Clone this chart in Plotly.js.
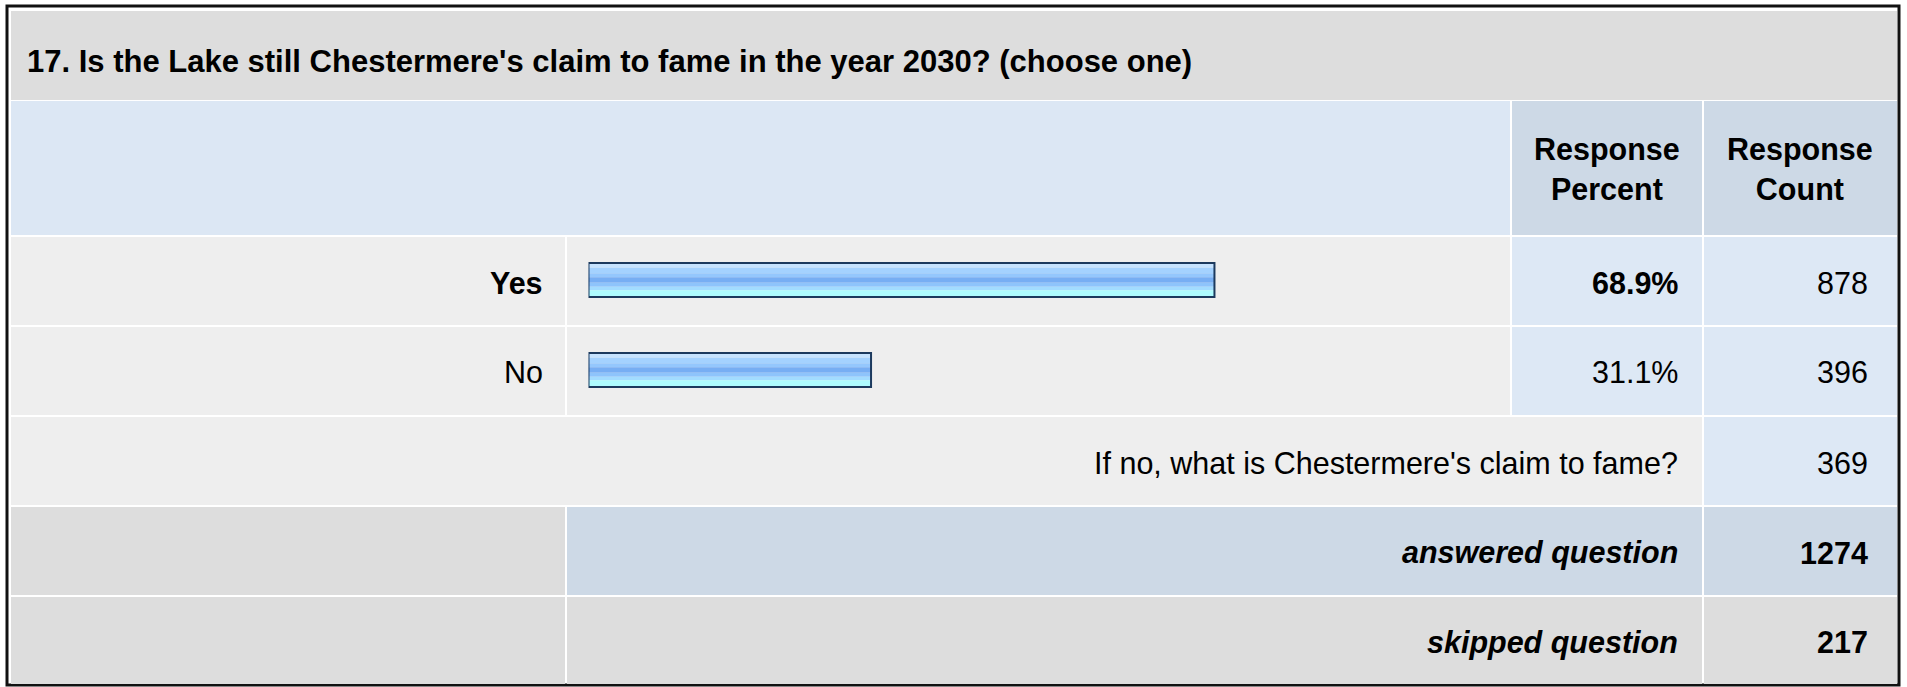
<!DOCTYPE html>
<html>
<head>
<meta charset="utf-8">
<script src="https://cdn.plot.ly/plotly-3.0.1.min.js"></script>
<style>
  html, body { margin: 0; padding: 0; background: #ffffff; }
  #chart { width: 1907px; height: 687px; }
</style>
</head>
<body>
<div id="chart"></div>
<script>
// ---------------- data ----------------
const questionTitle = "17. Is the Lake still Chestermere's claim to fame in the year 2030? (choose one)";
const headerLabels = ["Response<br>Percent", "Response<br>Count"];
const answerLabels = ["Yes", "No"];
const responsePercent = [68.9, 31.1];
const responseCount = [878, 396];
const otherLabel = "If no, what is Chestermere's claim to fame?";
const otherCount = 369;
const summaryLabels = ["answered question", "skipped question"];
const summaryCounts = [1274, 217];

// ---------------- layout constants (pixels) ----------------
const W = 1907, H = 687;
const FONT = "Liberation Sans, Arial, Helvetica, sans-serif";
const FS = 30.5;
const cols = [[11, 564], [567, 1509], [1512, 1701], [1704, 1896]];
const rows = {
  title: [11, 99], header: [101, 234], r0: [237, 324], r1: [327, 414],
  other: [417, 504], answered: [507, 594], skipped: [597, 683]
};
const C = {
  title: "#dddddd", headLight: "#dce7f4", headDark: "#cdd9e6",
  body: "#eeeeee", bodyBlue: "#dde8f5", grey: "#dddddd"
};
const px = v => v / W;
const py = v => 1 - v / H;

function cell(x0, x1, y0, y1, color) {
  return { type: "rect", xref: "paper", yref: "paper", layer: "below",
    x0: px(x0), x1: px(x1 + 1), y0: py(y1 + 1), y1: py(y0),
    fillcolor: color, line: { width: 0 } };
}

const shapes = [
  // outer border
  { type: "rect", xref: "paper", yref: "paper", layer: "below",
    x0: px(7), x1: px(1899), y0: py(685), y1: py(6),
    fillcolor: "rgba(0,0,0,0)", line: { color: "#111111", width: 3 } },
  cell(cols[0][0], cols[3][1], rows.title[0], rows.title[1], C.title),
  cell(cols[0][0], cols[1][1], rows.header[0], rows.header[1], C.headLight),
  cell(cols[2][0], cols[2][1], rows.header[0], rows.header[1], C.headDark),
  cell(cols[3][0], cols[3][1], rows.header[0], rows.header[1], C.headDark),
];
["r0", "r1"].forEach(r => {
  shapes.push(cell(cols[0][0], cols[0][1], rows[r][0], rows[r][1], C.body));
  shapes.push(cell(cols[1][0], cols[1][1], rows[r][0], rows[r][1], C.body));
  shapes.push(cell(cols[2][0], cols[2][1], rows[r][0], rows[r][1], C.bodyBlue));
  shapes.push(cell(cols[3][0], cols[3][1], rows[r][0], rows[r][1], C.bodyBlue));
});
shapes.push(cell(cols[0][0], cols[2][1], rows.other[0], rows.other[1], C.body));
shapes.push(cell(cols[3][0], cols[3][1], rows.other[0], rows.other[1], C.bodyBlue));
shapes.push(cell(cols[0][0], cols[0][1], rows.answered[0], rows.answered[1], C.grey));
shapes.push(cell(cols[1][0], cols[2][1], rows.answered[0], rows.answered[1], C.headDark));
shapes.push(cell(cols[3][0], cols[3][1], rows.answered[0], rows.answered[1], C.headDark));
shapes.push(cell(cols[0][0], cols[0][1], rows.skipped[0], rows.skipped[1], C.grey));
shapes.push(cell(cols[1][0], cols[2][1], rows.skipped[0], rows.skipped[1], C.grey));
shapes.push(cell(cols[3][0], cols[3][1], rows.skipped[0], rows.skipped[1], C.grey));

// ---------------- annotations ----------------
const ann = [];
function txt(text, x, yCenter, anchor, size) {
  ann.push({
    text: text, xref: "paper", yref: "paper", x: px(x), y: py(yCenter),
    xanchor: anchor, yanchor: "middle", showarrow: false,
    font: { family: FONT, size: size || FS, color: "#000000" }
  });
}
const mid = r => (r[0] + r[1]) / 2 + 2;
txt("<b>" + questionTitle + "</b>", 25, 61, "left", 31);
txt("<b>" + headerLabels[0] + "</b>", (cols[2][0] + cols[2][1]) / 2, mid(rows.header), "center");
txt("<b>" + headerLabels[1] + "</b>", (cols[3][0] + cols[3][1]) / 2, mid(rows.header), "center");
const maxIdx = responsePercent.indexOf(Math.max(...responsePercent));
answerLabels.forEach((lab, i) => {
  const r = rows["r" + i];
  const b = i === maxIdx;
  txt(b ? "<b>" + lab + "</b>" : lab, 545, mid(r), "right");
  const pct = responsePercent[i].toFixed(1) + "%";
  txt(b ? "<b>" + pct + "</b>" : pct, 1680, mid(r), "right");
  txt(String(responseCount[i]), 1870, mid(r), "right");
});
txt(otherLabel, 1680, mid(rows.other), "right");
txt(String(otherCount), 1870, mid(rows.other), "right");
txt("<b><i>" + summaryLabels[0] + "</i></b>", 1680, mid(rows.answered), "right");
txt("<b>" + summaryCounts[0] + "</b>", 1870, mid(rows.answered), "right");
txt("<b><i>" + summaryLabels[1] + "</i></b>", 1680, mid(rows.skipped), "right");
txt("<b>" + summaryCounts[1] + "</b>", 1870, mid(rows.skipped), "right");

// ---------------- bars (gradient stripes) ----------------
const BW = 34 / 90;   // bar thickness in category units
const stripes = [
  [0.00, 0.14, "#c6e3ff"],
  [0.14, 0.30, "#a4d2ff"],
  [0.30, 0.42, "#94c7fd"],
  [0.42, 0.58, "#77aef3"],
  [0.58, 0.70, "#8ec4fb"],
  [0.70, 0.80, "#a2dcff"],
  [0.80, 1.00, "#aefcff"]
];
const traces = stripes.map(s => ({
  type: "bar", orientation: "h",
  x: responsePercent, y: answerLabels,
  offset: -BW / 2 + s[0] * BW, width: (s[1] - s[0]) * BW,
  marker: { color: s[2], line: { width: 0 } },
  hoverinfo: "skip", showlegend: false
}));
traces.push({
  type: "bar", orientation: "h",
  x: responsePercent, y: answerLabels,
  offset: -BW / 2, width: BW,
  marker: { color: "rgba(0,0,0,0)", line: { color: "#1c3a5e", width: 2 } },
  hoverinfo: "skip", showlegend: false
});

const layout = {
  width: W, height: H,
  margin: { l: 0, r: 0, t: 0, b: 0, pad: 0 },
  paper_bgcolor: "#ffffff", plot_bgcolor: "rgba(0,0,0,0)",
  barmode: "overlay", showlegend: false,
  xaxis: { domain: [px(588.5), px(1497)], range: [0, 100], visible: false, fixedrange: true },
  yaxis: { domain: [py(415), py(235)], type: "category", categoryarray: answerLabels,
           range: [1.5, -0.5], visible: false, fixedrange: true },
  shapes: shapes, annotations: ann,
  font: { family: FONT }
};

Plotly.newPlot("chart", traces, layout, { displayModeBar: false, staticPlot: true });
</script>
</body>
</html>
